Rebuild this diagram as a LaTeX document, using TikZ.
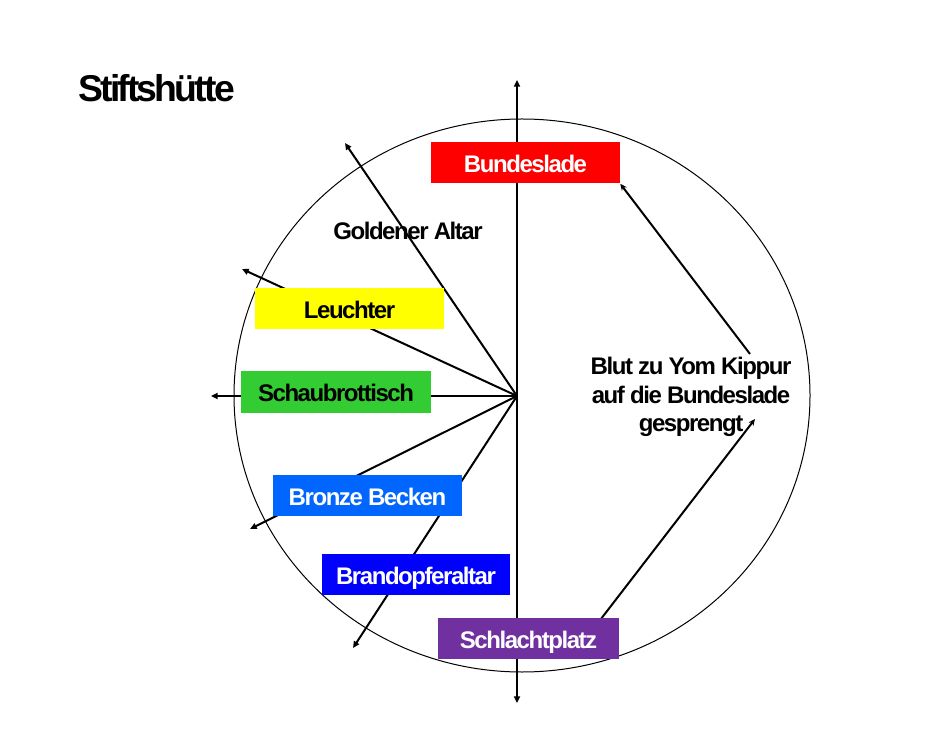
\documentclass[tikz,border=0pt]{standalone}
\usepackage{fontspec}
\setmainfont{Liberation Sans}[LetterSpace=-6]
\newfontfamily\titlefont{Liberation Sans}[LetterSpace=-7.5]
\usetikzlibrary{arrows.meta,backgrounds}
\definecolor{cred}{HTML}{FF0000}
\definecolor{cyellow}{HTML}{FFFF00}
\definecolor{cgreen}{HTML}{33CC33}
\definecolor{cblueA}{HTML}{0066FF}
\definecolor{cblueB}{HTML}{0000FF}
\definecolor{cpurple}{HTML}{7030A0}
\tikzset{
  box/.style={minimum width=189*0.75pt, minimum height=41*0.75pt, inner sep=0pt,
    text height=15pt, text depth=0pt, font=\fontsize{18}{21.5}\selectfont\bfseries},
  lbl/.style={font=\fontsize{18}{21.5}\selectfont\bfseries, inner sep=0pt},
  ray/.style={line width=1.5pt, -{Triangle[length=5pt,width=4.5pt]}},
  thin ray/.style={line width=1.5pt, -{Stealth[length=5pt,width=4.5pt,open]}}
}
\begin{document}
\begin{tikzpicture}[x=0.75pt,y=-0.75pt]
\useasboundingbox (0,0) rectangle (952,737);
% title
\node[anchor=base west, inner sep=0pt, font=\titlefont\fontsize{28}{32}\selectfont\bfseries] (title) at (78,102) {Stiftshütte};
% boxes
\node[box, fill=cred, text=white] (bund) at (525.5,163) {Bundeslade};
\node[box, fill=cyellow, text=black] (leucht) at (349.5,308.5) {Leuchter};
\node[box, fill=cgreen, text=black, minimum width=190*0.75pt] (schau) at (336,392) {Schaubrottisch};
\node[box, fill=cblueA, text=white] (bronze) at (367.5,495.5) {Bronze Becken};
\node[box, fill=cblueB, text=white, minimum width=188*0.75pt] (brand) at (416,574.5) {Brandopferaltar};
\node[box, fill=cpurple, text=white, minimum width=181*0.75pt] (schl) at (528.5,638.5) {Schlachtplatz};
% labels
\node[lbl, anchor=base] (gold) at (408,240) {Goldener Altar};
\node[lbl, align=center] (blut) at (691,397) {Blut zu Yom Kippur\\auf die Bundeslade\\gesprengt};
% coordinates
\coordinate (hub) at (517,396);
\coordinate (top) at (517,80);
\coordinate (bot) at (517,703);
\coordinate (eGold) at (345,143);
\coordinate (eLeucht) at (242,269);
\coordinate (eSchau) at (211,396);
\coordinate (eBronze) at (250,529);
\coordinate (eBrand) at (353,648);
\coordinate (k1) at (750,354);
\coordinate (s1) at (594,628);
\coordinate (k2) at (755,419);
\begin{pgfonlayer}{background}
\draw[line width=0.75pt] (522,395.5) ellipse [x radius=288, y radius=276.5];
\draw[line width=1.5pt, {Triangle[length=5pt,width=4.5pt]}-{Triangle[length=5pt,width=4.5pt]}] (bot) -- (top);
\draw[ray] (hub) -- (eGold);
\draw[ray] (hub) -- (eLeucht);
\draw[ray] (hub) -- (eSchau);
\draw[ray] (hub) -- (eBronze);
\draw[ray] (hub) -- (eBrand);
\draw[thin ray] (k1) -- (bund.south east);
\draw[thin ray] (s1) -- (k2);
\end{pgfonlayer}
\end{tikzpicture}
\end{document}
